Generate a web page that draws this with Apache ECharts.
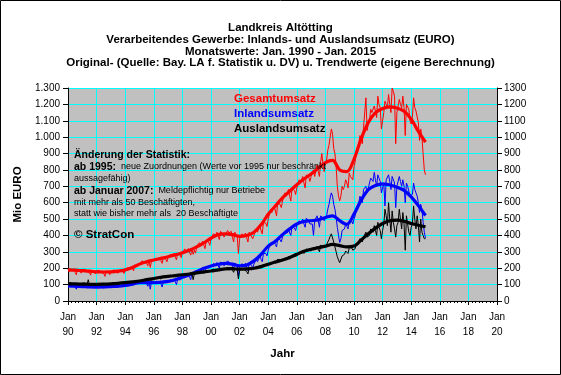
<!DOCTYPE html>
<html><head><meta charset="utf-8">
<script src="https://cdn.jsdelivr.net/npm/echarts@6/dist/echarts.min.js"></script>
<style>html,body{margin:0;padding:0;background:#fff}#c{width:561px;height:375px}</style>
</head><body><div id="c"></div>
<script>
const startYear = 1990;
const titleLines = [
  'Landkreis Altötting',
  'Verarbeitendes Gewerbe: Inlands- und Auslandsumsatz (EURO)',
  'Monatswerte: Jan. 1990 - Jan. 2015',
  'Original- (Quelle: Bay. LA f. Statistik u. DV) u. Trendwerte (eigene Berechnung)'
];
const legendNames = ['Gesamtumsatz', 'Inlandsumsatz', 'Auslandsumsatz'];
const xAxisName = 'Jahr';
const yAxisName = 'Mio EURO';
const xTickYears = [1990,1992,1994,1996,1998,2000,2002,2004,2006,2008,2010,2012,2014,2016,2018,2020];

// monthly original values, Jan 1990 .. Jan 2015
const gesamtOriginal = [
 195,180,200,190,185,198,175,160,195,190,185,170,
 190,178,195,185,180,192,172,158,188,185,180,165,
 182,170,188,178,175,185,168,150,182,180,176,160,
 178,172,190,180,178,190,170,160,188,186,183,168,
 190,185,205,198,200,212,198,185,215,212,210,200,
 225,220,245,235,238,250,230,215,248,205,240,228,
 248,240,262,252,250,265,245,230,262,260,255,240,
 265,260,285,275,275,290,268,252,290,285,282,265,
 295,290,318,305,305,320,295,280,320,285,310,292,
 330,325,355,345,348,365,340,320,368,365,360,340,
 380,375,410,400,400,420,395,375,425,415,410,390,
 405,400,430,415,410,425,390,360,420,410,395,290,
 380,385,410,395,390,415,385,360,420,405,400,380,
 400,395,440,420,430,460,430,410,480,470,475,455,
 500,505,560,540,545,580,550,520,600,590,590,570,
 610,600,660,640,645,680,640,610,690,680,675,650,
 690,680,740,720,730,760,720,690,770,760,755,730,
 760,750,800,760,795,830,790,760,850,900,830,790,
 840,860,920,950,1000,1050,1020,930,900,820,700,640,
 612,640,700,680,700,740,720,690,780,760,770,740,
 820,850,920,940,960,1010,990,960,1060,1050,1240,1040,
 1080,1100,1170,1150,1140,1190,1160,1120,1250,1200,1180,1050,
 1100,1150,1220,1200,1180,1260,1200,1150,1300,1280,1250,960,
 1150,1160,1230,1200,1180,1250,1180,1010,1200,1190,1170,1100,
 1080,1120,1240,1180,1160,1150,1090,980,1050,1000,900,800,
 770
];
const inlandOriginal = [
 95,88,100,92,90,98,85,72,95,92,90,80,
 92,86,98,90,88,95,82,70,93,90,88,78,
 88,82,95,86,85,92,80,68,90,88,86,75,
 88,84,97,90,88,95,84,72,95,92,90,80,
 95,92,105,100,100,108,96,85,110,108,106,98,
 112,108,122,115,112,120,105,90,118,72,112,100,
 110,108,122,115,112,120,106,85,118,116,114,104,
 118,115,130,125,122,135,118,100,132,130,128,118,
 140,138,155,150,150,165,145,130,168,165,162,150,
 175,172,192,185,188,205,185,170,210,205,202,190,
 210,208,228,220,220,235,215,200,238,230,228,215,
 228,225,245,235,230,240,215,195,232,225,215,150,
 205,205,228,215,212,230,205,185,228,222,218,200,
 225,222,255,240,250,275,255,240,290,285,290,275,
 310,315,350,340,345,365,345,330,380,375,375,360,
 390,385,420,410,415,440,415,400,455,445,445,430,
 460,450,490,475,480,500,470,450,505,495,490,470,
 480,470,400,490,495,520,490,450,520,510,505,490,
 500,520,560,590,630,660,640,590,560,510,450,400,
 357,380,430,420,440,470,455,440,490,480,490,470,
 500,520,570,580,600,640,620,600,680,670,700,660,
 690,700,750,740,730,785,740,700,770,750,730,660,
 690,720,580,740,730,770,730,680,760,750,720,570,
 700,710,760,730,700,740,700,600,720,700,690,640,
 630,650,720,680,660,640,600,540,590,560,480,420,
 385
];
const auslandOriginal = [
 110,104,112,106,104,110,100,95,108,106,104,98,
 108,102,110,104,102,130,98,92,106,104,102,96,
 106,100,108,102,100,106,96,100,104,102,100,95,
 106,102,112,106,104,110,100,96,110,108,106,100,
 112,108,118,114,112,120,108,102,120,118,116,110,
 122,118,130,126,124,132,120,112,132,130,128,120,
 136,132,145,140,138,148,135,125,148,145,142,135,
 150,146,158,154,152,160,148,138,160,158,155,148,
 160,156,168,164,162,170,158,150,170,130,165,158,
 172,168,180,176,175,182,170,160,185,182,180,172,
 183,180,195,188,188,198,184,172,200,195,192,182,
 195,190,205,200,198,205,188,175,200,196,190,135,
 185,182,200,192,190,202,180,165,200,195,190,180,
 195,192,210,202,205,218,200,188,222,218,218,208,
 215,215,235,228,232,245,230,218,255,250,250,240,
 245,240,262,255,258,272,255,245,280,275,272,262,
 275,270,295,288,292,310,290,280,318,312,310,298,
 305,300,325,318,320,335,315,300,340,335,330,318,
 330,335,360,375,395,410,400,360,330,300,270,250,
 234,245,275,270,285,305,295,290,325,320,325,310,
 310,320,350,355,360,380,370,360,390,385,420,390,
 390,400,440,430,420,460,430,400,480,450,430,380,
 430,470,560,520,460,600,500,420,550,480,440,390,
 460,480,560,500,440,540,470,310,520,470,420,400,
 450,470,580,500,440,520,460,360,500,420,400,380,
 380
];

// half-yearly trend values, Jan 1990 .. Jan 2015
const gesamtTrend = [
 190,188, 185,182, 178,177, 178,182, 190,205, 225,240, 250,260, 270,282, 295,310, 330,355,
 383,405, 410,405, 395,400, 420,465, 530,580, 630,670, 710,745, 775,810, 845,858, 800,790,
 865,990, 1090,1150, 1175,1185, 1178,1158, 1110,1035, 970
];
const inlandTrend = [
 92,90, 88,86, 85,86, 88,90, 95,103, 112,112, 112,115, 120,130, 145,160, 180,200,
 214,224, 230,225, 215,220, 245,285, 335,365, 405,440, 470,485, 490,495, 510,520, 490,468,
 530,615, 680,705, 715,708, 695,675, 635,582, 522
];
const auslandTrend = [
 105,104, 103,102, 102,103, 105,108, 112,117, 122,130, 137,145, 150,155, 160,165, 172,178,
 183,190, 196,197, 194,196, 200,210, 224,238, 250,265, 285,303, 316,325, 335,345, 338,330,
 335,372, 410,445, 473,490, 493,487, 473,462, 453
];

const toPairs = (arr, step) => arr.map((v, i) => [startYear + i * step, v]);
const FONT = '"Liberation Sans", Arial, sans-serif';
const colors = ['#ff0000', '#0000ff', '#000000'];

const chart = echarts.init(document.getElementById('c'), null, {renderer: 'canvas'});
const origSeries = [gesamtOriginal, inlandOriginal, auslandOriginal].map((arr, k) => ({
  type: 'line', name: legendNames[k] + ' Original', data: toPairs(arr, 1/12),
  showSymbol: false, symbol: 'none', silent: true,
  lineStyle: {color: colors[k], width: 1}, z: 2
}));
const trendSeries = [gesamtTrend, inlandTrend, auslandTrend].map((arr, k) => ({
  type: 'line', name: legendNames[k] + ' Trend', data: toPairs(arr, 0.5),
  showSymbol: false, symbol: 'none', silent: true, smooth: 0.35,
  lineStyle: {color: colors[k], width: 3.2}, z: 3
}));

const fmtLeft = v => v >= 1000 ? Math.floor(v/1000) + '.' + String(v % 1000).padStart(3, '0') : String(v);

chart.setOption({
  animation: false,
  backgroundColor: '#ffffff',
  title: {
    text: titleLines.join('\n'), left: 'center', top: 17,
    textStyle: {fontFamily: FONT, fontSize: 11.5, fontWeight: 'bold', color: '#000', lineHeight: 11.8}
  },
  grid: {left: 68, right: 64, top: 88, bottom: 74, show: true, backgroundColor: '#c0c0c0', borderWidth: 0},
  xAxis: {
    type: 'value', min: 1990, max: 2020, interval: 2,
    name: xAxisName, nameLocation: 'middle', nameGap: 47,
    nameTextStyle: {fontFamily: FONT, fontSize: 11.5, fontWeight: 'bold', color: '#000'},
    axisLine: {show: true, lineStyle: {color: '#000', width: 1}},
    axisTick: {show: true, length: 4, lineStyle: {color: '#000'}},
    minorTick: {show: true, splitNumber: 8, length: 2, lineStyle: {color: '#000'}},
    axisLabel: {
      margin: 9, fontFamily: FONT, fontSize: 10, color: '#000', lineHeight: 15,
      formatter: v => xTickYears.includes(v) ? 'Jan\n' + String(v % 100).padStart(2, '0') : ''
    },
    splitLine: {show: true, lineStyle: {color: '#00ffff', width: 1}}
  },
  yAxis: [{
    type: 'value', min: 0, max: 1300, interval: 100, position: 'left',
    name: yAxisName, nameLocation: 'middle', nameGap: 41, nameRotate: 90,
    nameTextStyle: {fontFamily: FONT, fontSize: 11.5, fontWeight: 'bold', color: '#000'},
    axisLine: {show: true, lineStyle: {color: '#000'}},
    axisTick: {show: true, length: 5, lineStyle: {color: '#000'}},
    axisLabel: {margin: 8, fontFamily: FONT, fontSize: 10, color: '#000', formatter: fmtLeft},
    splitLine: {show: true, lineStyle: {color: '#00ffff', width: 1}}
  }, {
    type: 'value', min: 0, max: 1300, interval: 100, position: 'right',
    axisLine: {show: true, lineStyle: {color: '#000'}},
    axisTick: {show: true, length: 5, lineStyle: {color: '#000'}},
    axisLabel: {margin: 7, fontFamily: FONT, fontSize: 10, color: '#000', formatter: v => String(v)},
    splitLine: {show: false}
  }],
  series: origSeries.concat(trendSeries),
  graphic: [
    {type: 'rect', shape: {x: 0.5, y: 0.5, width: 560, height: 374}, style: {fill: 'none', stroke: '#000', lineWidth: 1}, silent: true, z: 100},
    {type: 'text', x: 234, y: 99, z: 50, style: {text: legendNames[0], fill: colors[0], font: 'bold 11.5px ' + FONT, verticalAlign: 'middle'}},
    {type: 'text', x: 234, y: 114, z: 50, style: {text: legendNames[1], fill: colors[1], font: 'bold 11.5px ' + FONT, verticalAlign: 'middle'}},
    {type: 'text', x: 234, y: 129, z: 50, style: {text: legendNames[2], fill: colors[2], font: 'bold 11.5px ' + FONT, verticalAlign: 'middle'}},
    {type: 'text', x: 74, y: 155, z: 50, style: {text: 'Änderung der Statistik:', fill: '#000', font: 'bold 10.5px ' + FONT, verticalAlign: 'middle'}},
    {type: 'text', x: 74, y: 167, z: 50, style: {text: '{b|ab 1995:}  neue Zuordnungen (Werte vor 1995 nur beschränkt', fill: '#000', font: '9px ' + FONT, verticalAlign: 'middle', rich: {b: {fontWeight: 'bold', fontSize: 10.5, fontFamily: FONT}}}},
    {type: 'text', x: 74, y: 179, z: 50, style: {text: 'aussagefähig)', fill: '#000', font: '9px ' + FONT, verticalAlign: 'middle'}},
    {type: 'text', x: 74, y: 191, z: 50, style: {text: '{b|ab Januar 2007:}  Meldepflichtig nur Betriebe', fill: '#000', font: '9px ' + FONT, verticalAlign: 'middle', rich: {b: {fontWeight: 'bold', fontSize: 10.5, fontFamily: FONT}}}},
    {type: 'text', x: 74, y: 203, z: 50, style: {text: 'mit mehr als 50 Beschäftigten,', fill: '#000', font: '9px ' + FONT, verticalAlign: 'middle'}},
    {type: 'text', x: 74, y: 214, z: 50, style: {text: 'statt wie bisher mehr als  20 Beschäftigte', fill: '#000', font: '9px ' + FONT, verticalAlign: 'middle'}},
    {type: 'text', x: 74, y: 235, z: 50, style: {text: '© StratCon', fill: '#000', font: 'bold 11.5px ' + FONT, verticalAlign: 'middle'}}
  ]
});
</script></body></html>
